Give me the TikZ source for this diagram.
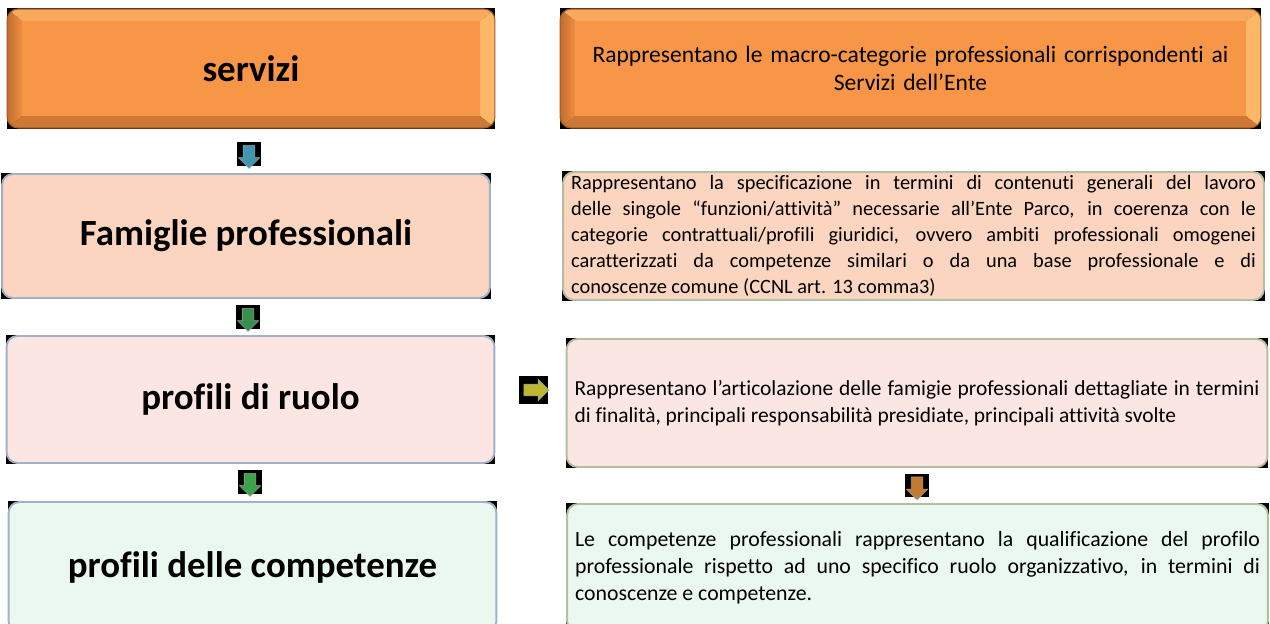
\documentclass[tikz,border=0pt]{standalone}
\usepackage{fontspec}
\setmainfont{Carlito}[Ligatures={TeX,NoCommon}]
\usetikzlibrary{shapes.arrows,backgrounds}
\definecolor{orangeface}{HTML}{F79646}
\definecolor{bevtop}{HTML}{F9A95E}
\definecolor{bevright}{HTML}{FDB867}
\definecolor{bevbottom}{HTML}{CF7735}
\definecolor{bevleftout}{HTML}{C26C2C}
\definecolor{bevleftin}{HTML}{EE8E43}
\definecolor{bevelrim}{HTML}{9A5A2A}
\definecolor{peach}{HTML}{FBD5BF}
\definecolor{blush}{HTML}{FCE6E4}
\definecolor{mint}{HTML}{EAF8EF}
\definecolor{rimblue}{HTML}{A2B1C6}
\definecolor{rimgreen}{HTML}{B3BFA0}
\definecolor{tipblue}{HTML}{4197B2}
\definecolor{tipdkgreen}{HTML}{3A8E4F}
\definecolor{tipyellow}{HTML}{BDB82F}
\definecolor{tipgreen}{HTML}{3AA34C}
\definecolor{tiporange}{HTML}{C27A33}
\begin{document}
\begin{tikzpicture}[x=0.02cm,y=-0.02cm,line join=round,
  card/.style={rounded corners=0.22cm,inner sep=0pt,line width=1.1pt},
  leftcard/.style={card,draw=rimblue,minimum width=9.76cm,
    font=\fontsize{21}{25}\selectfont\bfseries},
  rightcard/.style={card,draw=rimgreen,minimum width=14.02cm,text width=13.7cm,
    align=justify},
  bevel/.style={draw=bevelrim,line width=0.6pt,
    path picture={
      \path (path picture bounding box.north west) coordinate (pa)
        (path picture bounding box.north east) coordinate (pb)
        (path picture bounding box.south east) coordinate (pc)
        (path picture bounding box.south west) coordinate (pd);
      \path ([shift={(0.3cm,-0.24cm)}]pa) coordinate (qa)
        ([shift={(-0.3cm,-0.24cm)}]pb) coordinate (qb)
        ([shift={(-0.3cm,0.24cm)}]pc) coordinate (qc)
        ([shift={(0.3cm,0.24cm)}]pd) coordinate (qd);
      \begin{scope}[sharp corners]
      \fill[bevtop] (pa) -- (pb) -- (qb) -- (qa) -- cycle;
      \fill[bevright] (pb) -- (pc) -- (qc) -- (qb) -- cycle;
      \fill[bevbottom] (pc) -- (pd) -- (qd) -- (qc) -- cycle;
      \shade[left color=bevleftout,right color=bevleftin] (pd) -- (pa) -- (qa) -- (qd) -- cycle;
      \fill[orangeface] (qa) rectangle (qc);
      \end{scope}
    }},
  iconbg/.style={fill=black,minimum size=0.48cm,inner sep=0pt},
  downtip/.style={single arrow,shape border rotate=270,inner sep=0.11cm,
    single arrow head extend=0.1cm,minimum height=0.46cm,draw=black!40,line width=0.3pt},
  righttip/.style={downtip,shape border rotate=0}]
  \useasboundingbox (0,0) rectangle (1270,624);
  % left column
  \node[leftcard,bevel,minimum height=2.38cm] (s1) at (251,68.5) {servizi};
  \node[leftcard,fill=peach,minimum height=2.48cm] (s2) at (246,236) {Famiglie professionali};
  \node[leftcard,fill=blush,minimum height=2.54cm] (s3) at (250.5,399.5) {profili di ruolo};
  \node[leftcard,fill=mint,minimum height=2.6cm] (s4) at (252.5,567) {profili delle competenze};
  % right column
  \node[rightcard,bevel,align=center,minimum height=2.38cm,font=\fontsize{13.4}{16}\selectfont] (d1) at (910.5,68.5)
    {Rappresentano le macro-categorie professionali corrispondenti ai\\ Servizi dell’Ente};
  \node[rightcard,fill=peach,minimum height=2.56cm,font=\fontsize{11.6}{14.8}\selectfont] (d2) at (913.5,236)
    {Rappresentano la specificazione in termini di contenuti generali del lavoro\linebreak
     delle singole “funzioni/attività” necessarie all’Ente Parco, in coerenza con le\linebreak
     categorie contrattuali/profili giuridici, ovvero ambiti professionali omogenei\linebreak
     caratterizzati da competenze similari o da una base professionale e di\linebreak
     conoscenze comune (CCNL art. 13 comma3)};
  \node[rightcard,fill=blush,minimum height=2.56cm,font=\fontsize{12.2}{15.3}\selectfont] (d3) at (917,403)
    {Rappresentano l'articolazione delle famigie professionali dettagliate in termini\linebreak
     di finalità, principali responsabilità presidiate, principali attività svolte};
  \node[rightcard,fill=mint,minimum height=2.56cm,font=\fontsize{12.4}{15.3}\selectfont] (d4) at (917.5,568)
    {Le competenze professionali rappresentano la qualificazione del profilo\linebreak
     professionale rispetto ad uno specifico ruolo organizzativo, in termini di\linebreak
     conoscenze e competenze.};
  \begin{scope}[on background layer]
    \foreach \n in {s1,d1,s2,d2,s3,d3,s4,d4}
      \fill (\n.north west) rectangle (\n.south east);
  \end{scope}
  % arrow icons
  \node[iconbg] (a1) at (249,154) {};
  \node[downtip,fill=tipblue] (t1) at (a1) {};
  \node[iconbg] (a2) at (248,317) {};
  \node[downtip,fill=tipdkgreen] (t2) at (a2) {};
  \node[iconbg,minimum size=0.58cm] (a3) at (533.5,390) {};
  \node[righttip,fill=tipyellow,minimum height=0.5cm] (t3) at (a3) {};
  \node[iconbg] (a4) at (250,482) {};
  \node[downtip,fill=tipgreen] (t4) at (a4) {};
  \node[iconbg] (a5) at (917,485.5) {};
  \node[downtip,fill=tiporange] (t5) at (a5) {};
\end{tikzpicture}
\end{document}
